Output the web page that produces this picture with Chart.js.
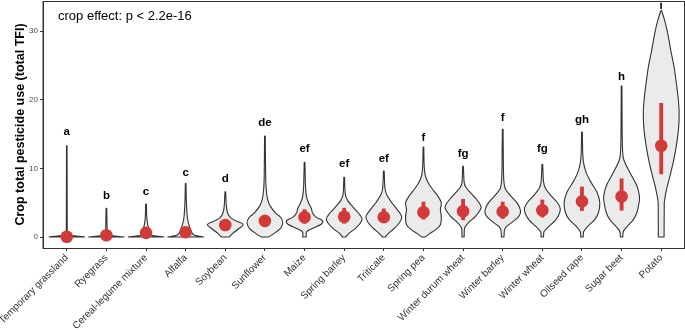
<!DOCTYPE html>
<html>
<head>
<meta charset="utf-8">
<script src="https://cdn.jsdelivr.net/npm/chart.js@4.4.1/dist/chart.umd.min.js"></script>
<style>
  html, body { margin: 0; padding: 0; background: #fff; }
  #wrap { width: 685px; height: 330px; }
</style>
</head>
<body>
<div id="wrap"><canvas id="tfi"></canvas></div>
<script>
// crops, in plot order
const crops = ['Temporary grassland', 'Ryegrass', 'Cereal-legume mixture', 'Alfalfa', 'Soybean',
  'Sunflower', 'Maize', 'Spring barley', 'Triticale', 'Spring pea', 'Winter durum wheat',
  'Winter barley', 'Winter wheat', 'Oilseed rape', 'Sugar beet', 'Potato'];

// red point + interval
const medians = [0.05, 0.25, 0.6, 0.7, 1.75, 2.35, 2.9, 2.95, 2.9, 3.6, 3.75, 3.7, 3.9, 5.2, 5.9, 13.3];
const lower = [0, 0, 0.3, 0.3, 1.2, 1.5, 2.0, 2.0, 2.2, 2.6, 2.5, 2.7, 2.9, 3.85, 3.9, 9.2];
const upper = [0.2, 0.6, 1.0, 1.1, 2.4, 3.1, 4.0, 4.2, 4.1, 5.1, 5.5, 5.1, 5.4, 7.3, 8.5, 19.5];

// group letters and where they sit
const letters = ['a', 'b', 'c', 'c', 'd', 'de', 'ef', 'ef', 'ef', 'f', 'fg', 'f', 'fg', 'gh', 'h', 'i'];
const letterY = [15.3, 6.0, 6.6, 9.4, 8.5, 16.6, 12.8, 10.6, 11.4, 14.5, 12.1, 17.3, 12.9, 17.1, 23.4, 33.7];

const yTicks = [0, 10, 20, 30];

// violin outlines: [TFI, relative half width]
const profiles = [
  [[0,1],[0.1,0.7],[0.2,0.3],[0.35,0.08],[0.6,0.04],[2,0.025],[13.3,0.015]],
  [[0,1],[0.1,0.6],[0.2,0.25],[0.35,0.08],[0.8,0.06],[1.2,0.04],[4.2,0.02]],
  [[0,1],[0.1,0.7],[0.2,0.35],[0.35,0.22],[0.7,0.2],[1.1,0.2],[1.5,0.12],[2.2,0.07],[3,0.04],[4.8,0.02]],
  [[0,1],[0.1,0.8],[0.25,0.5],[0.6,0.35],[1.2,0.26],[2,0.16],[3,0.09],[4.5,0.05],[6,0.03],[7.8,0.02]],
  [[0,0.22],[0.5,0.4],[1.1,0.7],[1.8,1],[2.3,0.65],[2.8,0.3],[3.5,0.13],[4.5,0.06],[6.6,0.02]],
  [[0,0.2],[0.5,0.5],[1.2,0.85],[2,1],[2.8,0.9],[3.5,0.6],[4.5,0.3],[5.5,0.15],[7,0.07],[9,0.04],[14.7,0.02]],
  [[0,0.1],[0.8,0.12],[1.3,0.5],[1.9,0.95],[2.4,1],[2.9,0.65],[3.5,0.45],[4.2,0.38],[5,0.22],[6,0.1],[7.5,0.05],[10.9,0.02]],
  [[0,0.1],[0.5,0.25],[1.2,0.6],[2,0.9],[2.7,1],[3.5,0.8],[4.5,0.45],[5.3,0.2],[6,0.08],[7,0.04],[8.7,0.02]],
  [[0,0.08],[0.5,0.25],[1.3,0.6],[2.2,0.9],[3,1],[4,0.75],[5,0.45],[6,0.2],[7,0.07],[9.6,0.02]],
  [[0,0.1],[0.5,0.35],[1,0.65],[1.8,0.95],[3,1],[4,0.95],[5,1],[6,0.8],[7,0.5],[8,0.25],[9,0.1],[10.5,0.04],[13.1,0.02]],
  [[0,0.06],[1,0.07],[1.5,0.12],[2.2,0.35],[3,0.7],[4,0.97],[4.5,1],[5.5,0.75],[6.5,0.4],[7.3,0.15],[8,0.06],[10.3,0.02]],
  [[0,0.07],[1,0.1],[1.5,0.2],[2.2,0.55],[3,0.9],[3.8,1],[4.8,0.85],[6,0.45],[7,0.15],[8,0.07],[10,0.04],[15.7,0.02]],
  [[0,0.07],[0.8,0.1],[1.5,0.35],[2.5,0.75],[3.5,0.97],[4.2,1],[5,0.85],[6,0.5],[7,0.2],[8,0.07],[10.6,0.02]],
  [[0,0.07],[0.8,0.1],[1.5,0.3],[2.5,0.7],[3.5,0.92],[5,1],[6.5,0.85],[8,0.5],[9.5,0.22],[11,0.08],[12.5,0.04],[15.3,0.02]],
  [[0,0.07],[0.8,0.1],[1.5,0.3],[2.5,0.65],[3.5,0.85],[5,0.98],[6,1],[7.5,0.85],[9,0.55],[10.5,0.25],[11.5,0.1],[13,0.05],[16,0.03],[22,0.02]],
  [[0,0.16],[4.4,0.17],[5.4,0.19],[7.3,0.33],[9,0.5],[11.2,0.7],[13.5,0.86],[15.5,0.96],[17,1],[18.5,1],[20,0.96],[22,0.87],[24.8,0.72],[27,0.55],[29.6,0.37],[31.5,0.2],[33,0.02]]
];

const RED = '#d23a3a';
const INK = '#333333';
const FONT = "'Liberation Sans', Arial, Helvetica, sans-serif";

// catmull-rom through one side; control points kept on their own side of the centre line
function splineSide(ctx, pts, cx, sign, first) {
  if (first) ctx.moveTo(pts[0][0], pts[0][1]); else ctx.lineTo(pts[0][0], pts[0][1]);
  const clamp = v => sign > 0 ? Math.max(v, cx) : Math.min(v, cx);
  for (let k = 0; k < pts.length - 1; k++) {
    const p0 = pts[Math.max(k - 1, 0)], p1 = pts[k], p2 = pts[k + 1], p3 = pts[Math.min(k + 2, pts.length - 1)];
    const c1x = clamp(p1[0] + (p2[0] - p0[0]) / 6), c1y = p1[1] + (p2[1] - p0[1]) / 6;
    const c2x = clamp(p2[0] - (p3[0] - p1[0]) / 6), c2y = p2[1] - (p3[1] - p1[1]) / 6;
    ctx.bezierCurveTo(c1x, c1y, c2x, c2y, p2[0], p2[1]);
  }
}

const violinPlugin = {
  id: 'violins',
  beforeDatasetsDraw(chart) {
    const { ctx, scales: { x, y } } = chart;
    ctx.save();
    profiles.forEach((prof, i) => {
      const cx = x.getPixelForValue(i);
      const right = prof.map(p => [x.getPixelForValue(i + p[1] * 0.45), y.getPixelForValue(p[0])]);
      const left = prof.map(p => [x.getPixelForValue(i - p[1] * 0.45), y.getPixelForValue(p[0])]).reverse();
      ctx.beginPath();
      splineSide(ctx, right, cx, 1, true);
      splineSide(ctx, left, cx, -1, false);
      ctx.closePath();
      ctx.fillStyle = '#ebebeb';
      ctx.fill();
      ctx.lineWidth = 1.1;
      ctx.strokeStyle = INK;
      ctx.lineJoin = 'round';
      ctx.stroke();
    });
    ctx.restore();
  },
  afterDatasetsDraw(chart) {
    const { ctx, chartArea, scales: { x, y } } = chart;
    ctx.save();
    ctx.fillStyle = '#000';
    ctx.textAlign = 'center';
    ctx.textBaseline = 'middle';
    ctx.font = 'bold 11.5px ' + FONT;
    letters.forEach((l, i) => ctx.fillText(l, x.getPixelForValue(i), y.getPixelForValue(letterY[i])));
    ctx.font = '13px ' + FONT;
    ctx.textAlign = 'left';
    ctx.fillText('crop effect: p < 2.2e-16', chartArea.left + 15, chartArea.top + 15);
    // panel border
    ctx.strokeStyle = INK;
    ctx.lineWidth = 1;
    ctx.strokeRect(chartArea.left, chartArea.top + 0.5, chartArea.right - chartArea.left - 0.5, chartArea.bottom - chartArea.top);
    ctx.restore();
  }
};

new Chart(document.getElementById('tfi'), {
  type: 'bar',
  data: {
    datasets: [
      {
        type: 'scatter',
        data: crops.map((c, i) => ({ x: i, y: medians[i] })),
        pointRadius: 6.3,
        pointBackgroundColor: RED,
        pointBorderWidth: 0,
        order: 0
      },
      {
        type: 'bar',
        data: crops.map((c, i) => ({ x: i, y: [lower[i], upper[i]] })),
        backgroundColor: RED,
        barThickness: 3.2,
        borderWidth: 0,
        order: 1
      }
    ]
  },
  plugins: [violinPlugin],
  options: {
    responsive: true,
    maintainAspectRatio: false,
    animation: false,
    layout: { autoPadding: false, padding: { top: 1, right: 0, left: 0, bottom: 0 } },
    plugins: { legend: { display: false }, tooltip: { enabled: false } },
    scales: {
      x: {
        type: 'linear',
        offset: false,
        min: -0.6,
        max: 15.6,
        afterBuildTicks(axis) { axis.ticks = crops.map((c, i) => ({ value: i })); },
        afterFit(axis) { axis.height = 82; axis.paddingLeft = 0; axis.paddingRight = 0; },
        ticks: {
          autoSkip: false,
          maxRotation: 45,
          minRotation: 45,
          padding: 1,
          color: INK,
          font: { family: FONT, size: 10 },
          callback: v => crops[v]
        },
        grid: { offset: false, drawOnChartArea: false, tickLength: 3, color: INK, tickColor: INK },
        border: { display: true, color: INK, width: 1 }
      },
      y: {
        min: -1.6,
        max: 34.4,
        afterBuildTicks(axis) { axis.ticks = yTicks.map(v => ({ value: v })); },
        afterFit(axis) { axis.width = 43; axis.paddingTop = 0; axis.paddingBottom = 0; },
        ticks: { color: '#4d4d4d', font: { family: FONT, size: 8 }, padding: 2 },
        grid: { drawOnChartArea: false, tickLength: 3, color: INK, tickColor: INK },
        border: { display: true, color: INK, width: 1 },
        title: {
          display: true,
          text: 'Crop total pesticide use (total TFI)',
          color: '#000',
          font: { family: FONT, size: 12.5, weight: 'bold' },
          padding: { top: 13, bottom: 0 }
        }
      }
    }
  }
});
</script>
</body>
</html>
